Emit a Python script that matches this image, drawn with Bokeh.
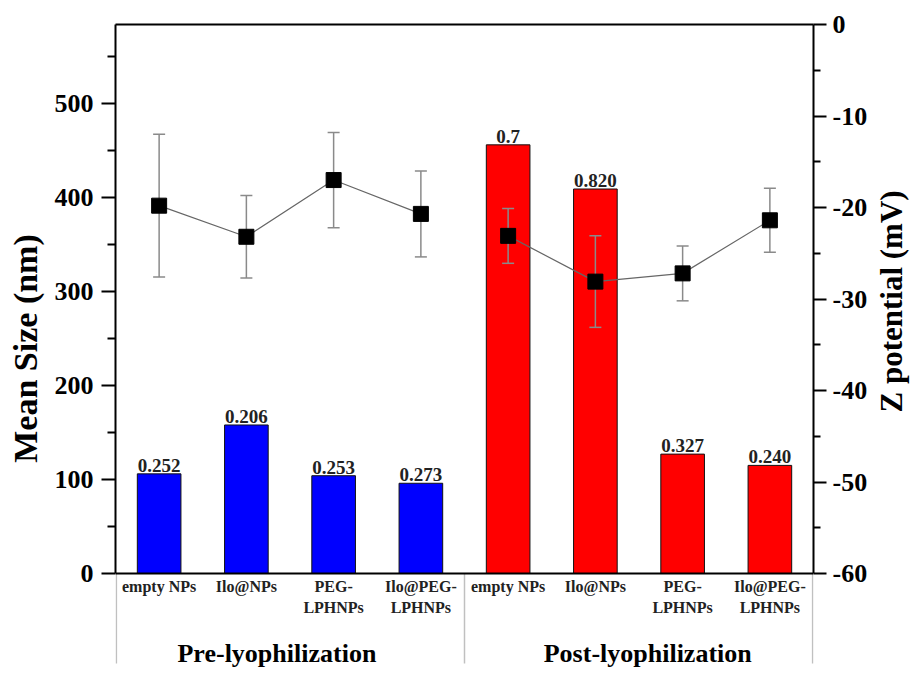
from bokeh.plotting import figure
from bokeh.layouts import row
from bokeh.models import Range1d, LinearAxis, FixedTicker, ColumnDataSource, Span, Title
from bokeh.core.properties import value
from bokeh.embed import file_html
from bokeh.resources import INLINE

# ---- data ----
categories_line1 = ["empty NPs", "Ilo@NPs", "PEG-", "Ilo@PEG-",
                    "empty NPs", "Ilo@NPs", "PEG-", "Ilo@PEG-"]
categories_line2 = ["", "", "LPHNPs", "LPHNPs", "", "", "LPHNPs", "LPHNPs"]
groups = ["Pre-lyophilization", "Post-lyophilization"]
mean_size = [106, 158, 104, 96, 456, 409, 127, 115]
pdi = ["0.252", "0.206", "0.253", "0.273", "0.7", "0.820", "0.327", "0.240"]
zeta = [-19.8, -23.2, -17.0, -20.7, -23.1, -28.1, -27.2, -21.4]
zeta_sd = [7.8, 4.5, 5.2, 4.7, 3.0, 5.0, 3.0, 3.5]
size_ticks = [0, 100, 200, 300, 400, 500]
size_minor = [50, 150, 250, 350, 450, 550]
zeta_ticks = [-60, -50, -40, -30, -20, -10, 0]
zeta_minor = [-55, -45, -35, -25, -15, -5]

FONT = "Liberation Serif"
# ---- layout (pixels) ----
W, W2, H = 870, 40, 672
LEFT, RIGHT_EDGE, TOP, AXIS_Y = 115, 816, 24, 573
SIZE_MAX, Z_MIN, Z_MAX = 584, -60, 0
spx = (AXIS_Y - TOP) / SIZE_MAX           # px per nm
zpx = (AXIS_Y - TOP) / (Z_MAX - Z_MIN)    # px per mV
below = H - AXIS_Y


def ybelow(px):
    return -px / spx


x = list(range(1, len(mean_size) + 1))
colors = ["#0000FF"] * 4 + ["#FF0000"] * 4

src = ColumnDataSource(dict(
    x=x, size=mean_size, pdi=pdi, color=colors, zeta=zeta,
    upper=[z + s for z, s in zip(zeta, zeta_sd)],
    lower=[z - s for z, s in zip(zeta, zeta_sd)],
))

p = figure(width=W, height=H, output_backend="svg", toolbar_location=None,
           x_range=Range1d(0.5, 8.5), y_range=Range1d(-below / spx, SIZE_MAX),
           x_axis_location=None,
           min_border_left=LEFT, min_border_right=W - RIGHT_EDGE,
           min_border_top=TOP, min_border_bottom=0)
p.extra_y_ranges = {"z": Range1d(Z_MIN - below / zpx, Z_MAX)}
p.grid.visible = False
p.outline_line_color = None


def style_axis(ax, ticks, minor, tick_out, minor_out, lab_standoff):
    ax.ticker = FixedTicker(ticks=ticks, minor_ticks=minor)
    ax.major_label_overrides = {t: str(t) for t in ticks}
    ax.major_label_text_font = FONT
    ax.major_label_text_font_style = "bold"
    ax.major_label_text_font_size = "26px"
    ax.major_label_text_color = "black"
    ax.major_label_standoff = lab_standoff
    ax.major_tick_out = tick_out
    ax.major_tick_in = 0
    ax.minor_tick_out = minor_out
    ax.minor_tick_in = 0
    ax.axis_line_width = 2
    ax.major_tick_line_width = 2
    ax.minor_tick_line_width = 2


la = p.yaxis[0]
style_axis(la, size_ticks, size_minor, 14, 8, 8)
la.axis_label = "Mean Size (nm)"
la.axis_label_text_font = FONT
la.axis_label_text_font_style = "bold"
la.axis_label_text_font_size = "34px"
la.axis_label_text_color = "black"
la.axis_label_standoff = 8
la.bounds = (0, SIZE_MAX)

ra = LinearAxis(y_range_name="z")
style_axis(ra, zeta_ticks, zeta_minor, 13, 7, 6)
ra.bounds = (Z_MIN, Z_MAX)
p.add_layout(ra, "right")

# top frame line
ta = LinearAxis(ticker=FixedTicker(ticks=[]), axis_line_width=2,
                axis_line_color="black", major_label_text_font_size="0px")
p.add_layout(ta, "above")
# bottom axis line
p.add_layout(Span(location=0, dimension="width", line_color="black", line_width=2))

# bars
p.vbar(x="x", top="size", width=0.5, bottom=0, fill_color="color",
       line_color="#111111", line_width=1, source=src)
p.text(x="x", y="size", text="pdi", source=src, text_font=value(FONT),
       text_font_style="bold", text_font_size="19px", text_align="center",
       text_baseline="bottom", y_offset=-2, text_color="#222222")

# error bars (zeta)
p.segment(x0="x", y0="lower", x1="x", y1="upper", line_color="#8a8a8a",
          line_width=1.5, source=src, y_range_name="z")
p.scatter(x="x", y="upper", marker="dash", size=12, line_color="#8a8a8a",
          line_width=1.5, source=src, y_range_name="z")
p.scatter(x="x", y="lower", marker="dash", size=12, line_color="#8a8a8a",
          line_width=1.5, source=src, y_range_name="z")

# connecting lines (two groups)
p.line(x[:4], zeta[:4], line_color="#666666", line_width=1.2, y_range_name="z")
p.line(x[4:], zeta[4:], line_color="#666666", line_width=1.2, y_range_name="z")
p.scatter(x="x", y="zeta", marker="square", size=15, fill_color="black",
          line_color="black", source=src, y_range_name="z")

# category labels below the axis
cat_src = ColumnDataSource(dict(x=x, l1=categories_line1, l2=categories_line2))
p.text(x="x", y=ybelow(13), text="l1", source=cat_src, text_font=value(FONT),
       text_font_style="bold", text_font_size="16px", text_align="center",
       text_baseline="middle", text_color="#222222")
p.text(x="x", y=ybelow(34), text="l2", source=cat_src, text_font=value(FONT),
       text_font_style="bold", text_font_size="16px", text_align="center",
       text_baseline="middle", text_color="#222222")

# group labels
grp_src = ColumnDataSource(dict(x=[2.35, 6.6], g=groups))
p.text(x="x", y=ybelow(80), text="g", source=grp_src, text_font=value(FONT),
       text_font_style="bold", text_font_size="26px", text_align="center",
       text_baseline="middle", text_color="black")

# group separators
sep_x = [0.51, 4.5, 8.49]
p.segment(x0=sep_x, y0=[0] * 3, x1=sep_x, y1=[ybelow(90)] * 3,
          line_color="#c0c0c0", line_width=1.5)

# ---- narrow strip holding the right-hand axis title ----
p3 = figure(width=W2, height=H, output_backend="svg", toolbar_location=None,
            x_axis_location=None, y_axis_location=None,
            min_border_left=W2 - 2, min_border_right=0,
            min_border_top=TOP, min_border_bottom=0)
p3.grid.visible = False
p3.outline_line_color = None
p3.add_layout(Title(text="Z potential (mV)", align="left", offset=H - 412,
                    standoff=0, text_font=FONT, text_font_style="bold",
                    text_font_size="31px", text_color="black"), "left")

open("out.html", "w").write(file_html(row(p, p3, spacing=0), INLINE))
